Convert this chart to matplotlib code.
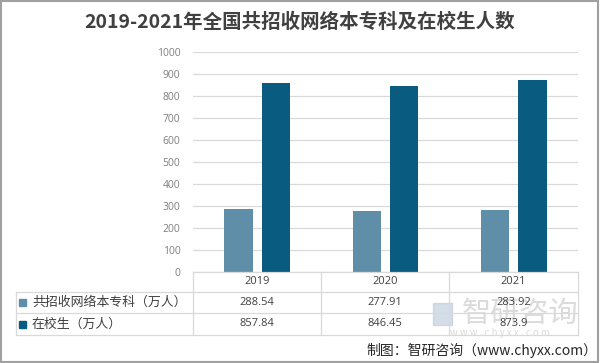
import matplotlib
matplotlib.use("Agg")
import matplotlib.pyplot as plt
from matplotlib.patches import Rectangle
import numpy as np

plt.rcParams['font.family'] = ['Noto Sans CJK SC', 'DejaVu Sans']

title = "2019-2021年全国共招收网络本专科及在校生人数"
years = ["2019", "2020", "2021"]
series_names = ["共招收网络本专科（万人）", "在校生（万人）"]
enroll = [288.54, 277.91, 283.92]
students = [857.84, 846.45, 873.9]
enroll_labels = ["288.54", "277.91", "283.92"]
students_labels = ["857.84", "846.45", "873.9"]
colors = ["#5f8fa8", "#0a5b80"]
yticks = list(range(0, 1001, 100))

W, H = 600, 363
fig = plt.figure(figsize=(W / 100, H / 100), dpi=100)

def fx(px):
    return px / W

def fy(py):
    return 1 - py / H

ax_l, ax_r, ax_t, ax_b = 193, 578, 52, 272
ax = fig.add_axes([fx(ax_l), fy(ax_b), fx(ax_r - ax_l), fy(ax_t) - fy(ax_b)])
x = np.arange(len(years))
bw = 0.22
gap = 0.07
ax.bar(x - (bw + gap) / 2, enroll, width=bw, color=colors[0], zorder=3)
ax.bar(x + (bw + gap) / 2, students, width=bw, color=colors[1], zorder=3)
ax.set_xlim(-0.5, len(years) - 0.5)
ax.set_ylim(0, 1000)
ax.set_yticks(yticks)
ax.set_yticklabels([str(t) for t in yticks], fontsize=7.5, color="#7f7f7f",
                   family=['Open Sans', 'DejaVu Sans'])
ax.tick_params(axis='y', length=0, pad=9)
ax.set_xticks([])
ax.yaxis.grid(True, color="#d9d9d9", linewidth=0.9, zorder=0)
for s in ax.spines.values():
    s.set_visible(False)

# Title
fig.text(0.5, fy(22), title, ha='center', va='center', fontsize=14,
         fontweight='bold', color="#404040")

# Data table lines (figure coords)
line_c = "#d9d9d9"
col_edges = [ax_l, 321, 449, ax_r]
row_edges = [272, 292, 313, 335]
left_edge = 16

def hline(y, x0, x1):
    fig.add_artist(plt.Line2D([fx(x0), fx(x1)], [fy(y), fy(y)], color=line_c, lw=0.9))

def vline(xp, y0, y1):
    fig.add_artist(plt.Line2D([fx(xp), fx(xp)], [fy(y0), fy(y1)], color=line_c, lw=0.9))

hline(row_edges[0], ax_l, ax_r)
for y in row_edges[1:]:
    hline(y, left_edge, ax_r)
for xp in col_edges:
    vline(xp, row_edges[0], row_edges[-1])
vline(left_edge, row_edges[1], row_edges[-1])

# Watermark (drawn beneath table text)
fig.add_artist(Rectangle((fx(433), fy(325)), fx(19), fy(303) - fy(325),
                         color="#b8c8da", alpha=0.6, transform=fig.transFigure, zorder=0))
fig.text(fx(462), fy(314), "智研咨询", ha='left', va='center', fontsize=21,
         color="#c4c4c4", alpha=0.6, zorder=0)
fig.text(fx(500), fy(333), "w w w . c h y x x . c o m", ha='center', va='center',
         fontsize=7, color="#c4c4c4", alpha=0.6, zorder=0)

centers = [(col_edges[i] + col_edges[i + 1]) / 2 for i in range(3)]
tcol = "#404040"
for i, yr in enumerate(years):
    fig.text(fx(centers[i]), fy((row_edges[0] + row_edges[1]) / 2), yr,
             ha='center', va='center', fontsize=8, color=tcol,
             family=['Open Sans', 'DejaVu Sans'])
rows = [enroll_labels, students_labels]
for r, labels in enumerate(rows):
    yc = fy((row_edges[r + 1] + row_edges[r + 2]) / 2)
    for i, lab in enumerate(labels):
        fig.text(fx(centers[i]), yc, lab, ha='center', va='center', fontsize=8,
                 color=tcol, family=['Open Sans', 'DejaVu Sans'])
    fig.add_artist(Rectangle((fx(19), yc - fy(0) + fy(3.5)), fx(7), fy(0) - fy(7),
                             color=colors[r], transform=fig.transFigure))
    fig.text(fx(32), yc, series_names[r], ha='left', va='center', fontsize=9.3, color=tcol)

# Source
fig.text(fx(597), fy(350), "制图：智研咨询（www.chyxx.com）", ha='right', va='center',
         fontsize=10, color="#262626")

# Outer border
fig.add_artist(Rectangle((0.002, 0.003), 0.994, 0.994, fill=False, edgecolor="#a0a0a0",
                         lw=1.5, transform=fig.transFigure))

fig.savefig("out.png", dpi=100)
